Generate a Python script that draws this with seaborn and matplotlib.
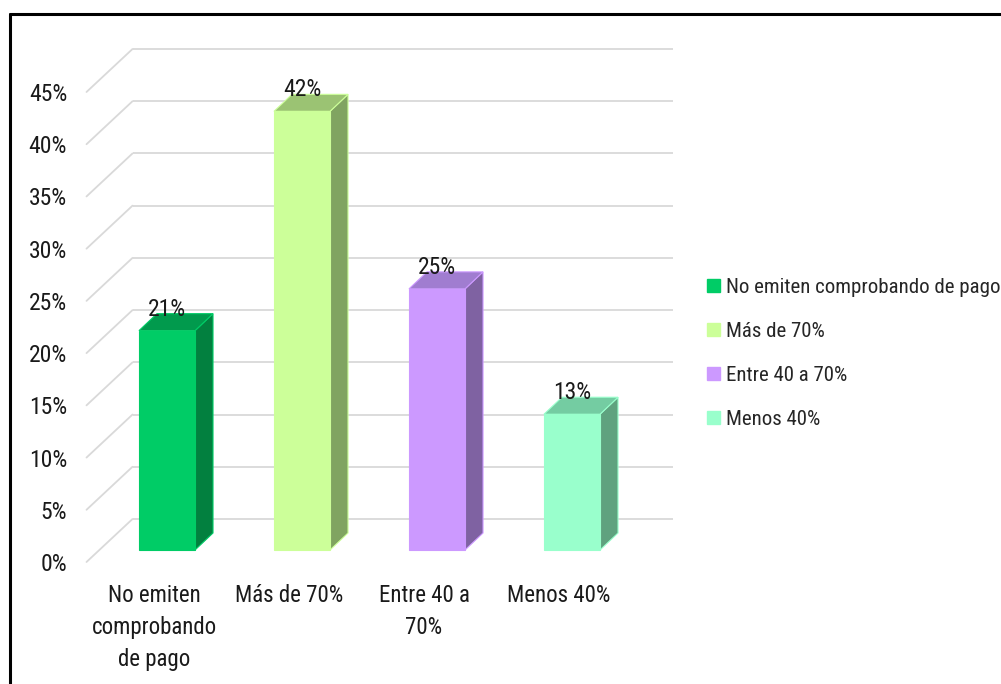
import matplotlib
matplotlib.use("Agg")
import matplotlib.pyplot as plt
import seaborn as sns
from matplotlib import font_manager as fm
from matplotlib.patches import Polygon, Patch
from matplotlib.lines import Line2D
from matplotlib.transforms import ScaledTranslation

categorias = ["No emiten comprobando de pago", "Más de 70%", "Entre 40 a 70%", "Menos 40%"]
etiquetas_x = ["No emiten\ncomprobando\nde pago", "Más de 70%", "Entre 40 a\n70%", "Menos 40%"]
valores = [21, 42, 25, 13]
ticks_y = [0, 5, 10, 15, 20, 25, 30, 35, 40, 45]

color_frente = ["#00CC66", "#CCFF99", "#CC99FF", "#99FFCC"]
color_lado = ["#02803F", "#80A461", "#7F62A2", "#5FA27F"]
color_techo = ["#019A4D", "#9BC373", "#A07DD0", "#74CCA2"]

sns.set_style("white")

# fuente estrecha tipo Arial Narrow si existe
instaladas = {f.name for f in fm.fontManager.ttflist}
narrow = [n for n in ["Liberation Sans Narrow", "Arial Narrow", "Roboto Condensed", "Archivo Narrow",
                      "PT Sans Narrow", "Pragati Narrow"] if n in instaladas]
if narrow:
    plt.rcParams["font.family"] = [narrow[0], "Liberation Sans", "DejaVu Sans"]
    fs, fs_x, fs_leg = 17, 16.5, 15
else:
    plt.rcParams["font.family"] = ["Liberation Sans", "DejaVu Sans"]
    fs, fs_x, fs_leg = 15, 14, 12.5

W, H, DPI = 1001, 684, 100
fig = plt.figure(figsize=(W / DPI, H / DPI), dpi=DPI)

# plano frontal de las barras: x -0.5..3.5 -> 99.5..639.5 px, y 0..45 -> 550..80 px
ax_l, ax_r, ax_b, ax_t = 99.5, 639.5, 550, 80
ax = fig.add_axes([ax_l / W, 1 - ax_b / H, (ax_r - ax_l) / W, (ax_b - ax_t) / H])

sns.barplot(x=etiquetas_x, y=valores, hue=etiquetas_x, palette=color_frente,
            saturation=1, width=0.415, legend=False, ax=ax, zorder=3)
ax.set_xlim(-0.5, 3.5)
ax.set_ylim(0, 45)

sx = (ax_r - ax_l) / 4.0   # px por categoria
sy = (ax_b - ax_t) / 45.0  # px por 1 %

def px(dx, dy):
    return dx / sx, dy / sy

# profundidades (en px)
bx, by = px(33, 31)    # pared del fondo
fx, fy = px(-13, -12)  # plano frontal (ejes)
dx, dy = px(18, 17)    # fondo de las barras

grid_col = "#D9D9D9"
for v in ticks_y:
    ax.plot([-0.5 + bx, 3.5 + bx], [v + by, v + by], color=grid_col, lw=1.3,
            zorder=0, clip_on=False, solid_capstyle="butt")
    ax.plot([-0.5 + fx, -0.5 + bx], [v + fy, v + by], color=grid_col, lw=1.3,
            zorder=0, clip_on=False)

for i, bar in enumerate(ax.patches):
    x0, w, h = bar.get_x(), bar.get_width(), bar.get_height()
    bar.set_edgecolor(color_frente[i])
    bar.set_linewidth(0.8)
    lado = [(x0 + w, 0), (x0 + w + dx, dy), (x0 + w + dx, h + dy), (x0 + w, h)]
    techo = [(x0, h), (x0 + dx, h + dy), (x0 + w + dx, h + dy), (x0 + w, h)]
    ax.add_patch(Polygon(lado, closed=True, facecolor=color_lado[i],
                         edgecolor=color_frente[i], lw=0.8, zorder=2, clip_on=False))
    ax.add_patch(Polygon(techo, closed=True, facecolor=color_techo[i],
                         edgecolor=color_frente[i], lw=0.8, zorder=2, clip_on=False))
    bar.set_clip_on(False)
    ax.text(x0 + w / 2, h + px(0, 15)[1], f"{valores[i]}%", ha="center",
            va="baseline", fontsize=fs, color="#1a1a1a", clip_on=False, zorder=5)

ax.set_yticks(ticks_y)
ax.set_yticklabels([f"{v}%" for v in ticks_y])
ax.tick_params(axis="y", length=0, pad=23.4, labelsize=fs, labelcolor="#1a1a1a")
ax.tick_params(axis="x", length=0, pad=24.5, labelsize=fs_x, labelcolor="#1a1a1a")
for lbl in ax.get_yticklabels():
    lbl.set_transform(lbl.get_transform() + ScaledTranslation(0, -12 / DPI, fig.dpi_scale_trans))
for lbl in ax.get_xticklabels():
    lbl.set_linespacing(1.5)
    lbl.set_transform(lbl.get_transform() + ScaledTranslation(-13 / DPI, 0, fig.dpi_scale_trans))

ax.set_xlabel("")
ax.set_ylabel("")
for s in ax.spines.values():
    s.set_visible(False)
ax.set_facecolor("none")

handles = [Patch(facecolor=c, edgecolor=c) for c in color_frente]
fig.legend(handles, categorias, loc="center left", bbox_to_anchor=(707 / W, 1 - 353.5 / H),
           frameon=False, fontsize=fs_leg, handlelength=0.62, handleheight=0.62,
           handletextpad=0.3, labelspacing=1.2, borderpad=0, borderaxespad=0)

# marco del grafico
fig.add_artist(Line2D([10 / W, 10 / W], [0, 1 - 14 / H], transform=fig.transFigure,
                      color="black", lw=2.2))
fig.add_artist(Line2D([10 / W, 1], [1 - 14 / H, 1 - 14 / H], transform=fig.transFigure,
                      color="black", lw=2.2))

fig.savefig("out.png", dpi=DPI, facecolor="white")
